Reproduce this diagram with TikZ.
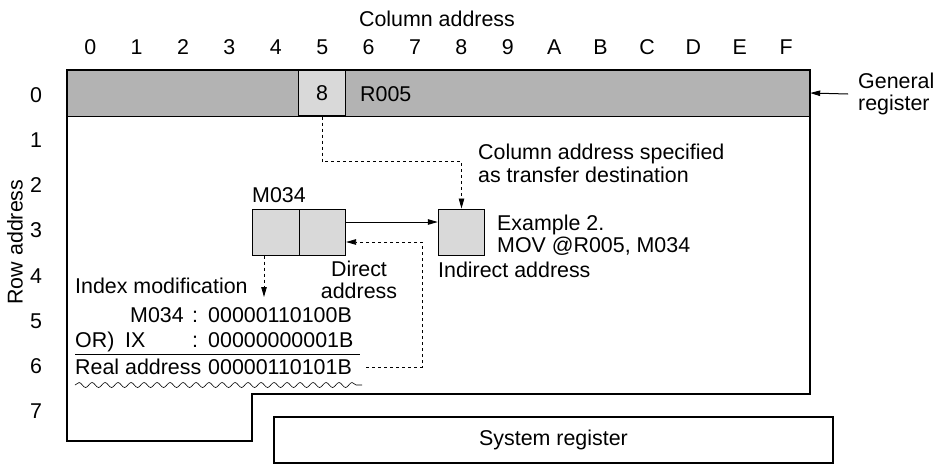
\documentclass[tikz,border=0pt]{standalone}
\usepackage{fontspec}
\setmainfont{Liberation Sans}
\usetikzlibrary{arrows.meta,decorations.pathmorphing}
\definecolor{regdark}{HTML}{B3B3B3}
\definecolor{reglight}{HTML}{D9D9D9}
\begin{document}
\begin{tikzpicture}[x=1pt,y=-1pt,
  font=\fontsize{21.4}{23}\selectfont,
  outline/.style={line width=2pt},
  cellbox/.style={draw, line width=1pt, fill=reglight, minimum width=46.4pt, minimum height=46pt, inner sep=0pt},
  lbl/.style={anchor=base west, inner sep=0pt},
  dashline/.style={line width=0.8pt, dash pattern=on 3pt off 3pt},
  arr/.style={-{Triangle[length=10pt,width=5.5pt]}},
]
\useasboundingbox (0,0) rectangle (936,464);

% headings
\node[anchor=base, inner sep=0pt] (coladdr) at (437,26) {Column address};
\foreach \c [count=\i from 0] in {0,1,2,3,4,5,6,7,8,9,A,B,C,D,E,F}
  \node[anchor=base, inner sep=0pt] (col\i) at (90.2+46.4*\i,54) {\c};
\foreach \r in {0,...,7}
  \node[inner sep=0pt] (row\r) at (36,95+45.2*\r) {\r};
\node[rotate=90, inner sep=0pt] (rowaddr) at (15,242) {Row address};

% general register bar
\node[fill=regdark, minimum width=743pt, minimum height=46pt, inner sep=0pt] (genbar) at (438.5,93) {};
\draw[line width=1.2pt] (genbar.south west) -- (genbar.south east);
\node[cellbox, line width=1.2pt] (c8) at (322,93) {8};
\node[lbl] (r005) at (360,101) {R005};

% main outline
\draw[outline] (67,70) -- (810,70) -- (810,394) -- (252,394) -- (252,441) -- (67,441) -- cycle;

% general register label
\node[anchor=west, align=left, inner sep=0pt, font=\fontsize{21.4}{21.5}\selectfont] (genlbl) at (858,94) {General\\register};
\draw[arr, line width=1pt] ([xshift=-10pt]genlbl.west) -- (genbar.east);

% M034 and indirect boxes
\node[cellbox] (m1) at (276,232) {};
\node[cellbox] (m2) at (322.4,232) {};
\node[lbl] (m034lbl) at (252,202) {M034};
\node[cellbox] (ind) at (461.5,232) {};

\draw[arr, line width=1pt] ([yshift=10pt]m2.east) -- ([yshift=10pt]ind.west);
\draw[dashline, arr] (c8.south) -- ++(0,45) -| (ind.north);

\node[lbl] (colspec1) at (478,159) {Column address specified};
\node[lbl] (colspec2) at (478,182) {as transfer destination};
\node[lbl] (ex1) at (497,230) {Example 2.};
\node[lbl] (ex2) at (497,252) {MOV @R005, M034};
\node[lbl] (indlbl) at (438,277) {Indirect address};
\node[align=center, inner sep=0pt, font=\fontsize{21.4}{21.5}\selectfont] (direct) at (359,280) {Direct\\address};

% index modification
\coordinate (idxtip) at (264,297);
\draw[dashline, arr] (m1.south -| idxtip) -- (idxtip);
\node[lbl] (idxlbl) at (75,293) {Index modification};
\node[lbl] (mname) at (130,322) {M034};
\node[lbl] (mcolon) at (192,322) {:};
\node[lbl] (mval) at (208,322) {00000110100B};
\node[lbl] (orlbl) at (75,347) {OR)};
\node[lbl] (ixlbl) at (125,347) {IX};
\node[lbl] (ixcolon) at (192,347) {:};
\node[lbl] (ixval) at (208,347) {00000000001B};
\draw[line width=0.8pt] (75,354) -- (360,354);
\node[lbl] (reallbl) at (75,374) {Real address};
\node[lbl] (realval) at (208,374) {00000110101B};
\draw[decorate, decoration={snake, segment length=13pt, amplitude=2.5pt}, line width=0.6pt] (75,385) -- (362,385);

\coordinate (rstart) at (366,367);
\coordinate (rcorner) at (422,367);
\draw[dashline, arr] (rstart) -- (rcorner) |- ([yshift=-10pt]m2.east);

% system register
\node[draw, line width=2pt, minimum width=559pt, minimum height=46pt, inner sep=0pt] (sysreg) at (553.5,440) {System register};
\end{tikzpicture}
\end{document}
